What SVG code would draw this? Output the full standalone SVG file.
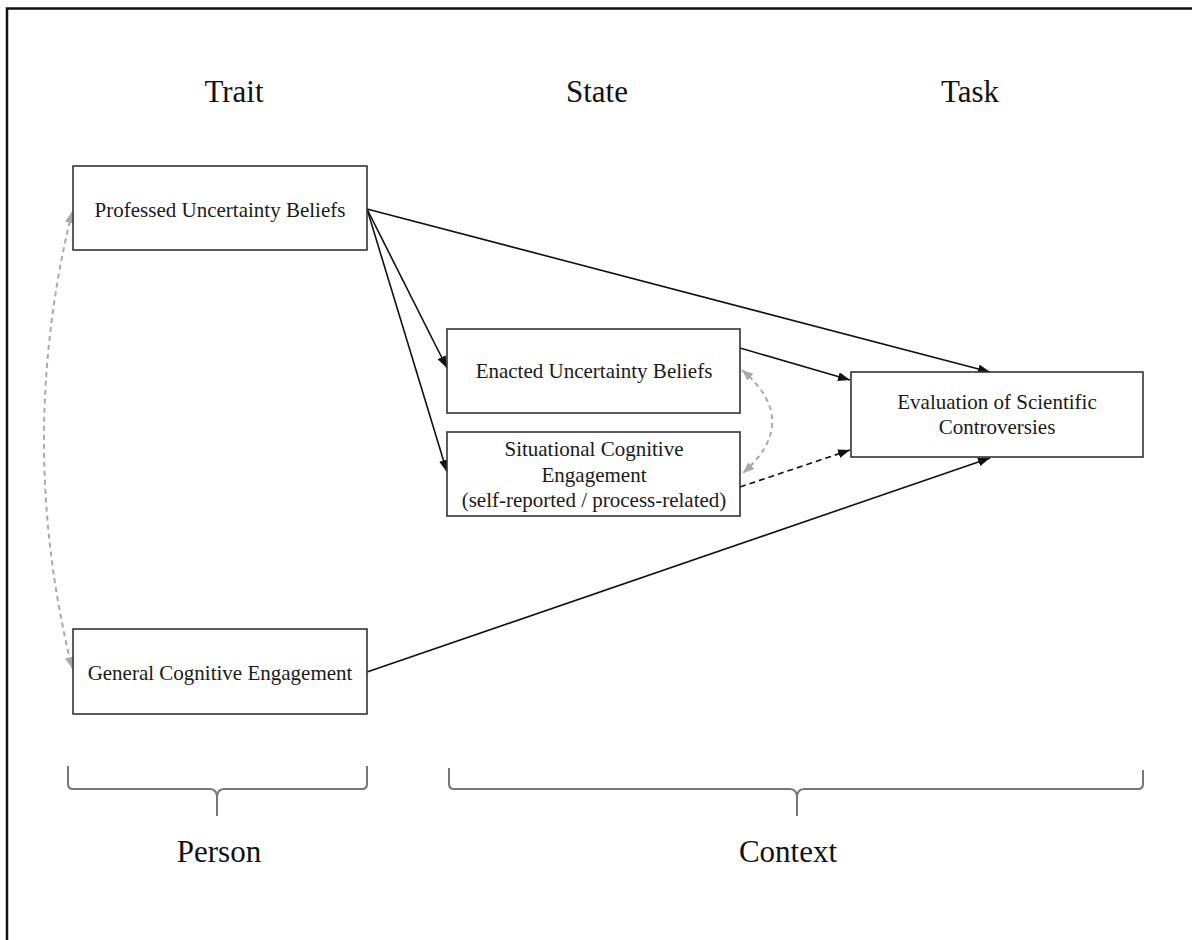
<svg xmlns="http://www.w3.org/2000/svg" width="1192" height="940" viewBox="0 0 1192 940">
<style>
.box{fill:#fff;stroke:#333;stroke-width:1.6}
.lbl{font-family:"Liberation Serif","Times New Roman",serif;font-size:21px;fill:#1a1a1a;text-anchor:middle}
.head{font-family:"Liberation Serif","Times New Roman",serif;font-size:31px;fill:#111;text-anchor:middle}
.arr{fill:none;stroke:#111;stroke-width:1.6}
.dash{fill:none;stroke:#111;stroke-width:1.6;stroke-dasharray:6,4}
.gdash{fill:none;stroke:#aaa;stroke-width:2;stroke-dasharray:5,4}
.brace{fill:none;stroke:#777;stroke-width:2}
</style>
<defs>
<marker id="ah" markerUnits="userSpaceOnUse" markerWidth="13" markerHeight="10" refX="12" refY="4.5" orient="auto">
<path d="M0,0 L12,4.5 L0,9 z" fill="#111"/>
</marker>
<marker id="gh" markerUnits="userSpaceOnUse" markerWidth="12" markerHeight="10" refX="11" refY="4.5" orient="auto-start-reverse">
<path d="M0,0 L11,4.5 L0,9 z" fill="#aaa"/>
</marker>
</defs>
<rect x="0" y="0" width="1192" height="940" fill="#fff"/>
<g id="frame">
<path d="M7,940 L7,8.5 L1192,8.5" fill="none" stroke="#111" stroke-width="2.5"/>
</g>
<g id="headings">
<text class="head" x="234" y="102">Trait</text>
<text class="head" x="597" y="102">State</text>
<text class="head" x="970" y="102">Task</text>
</g>
<g id="connectors">
<path class="gdash" d="M72,212 Q16,440 72,668" marker-start="url(#gh)" marker-end="url(#gh)"/>
<path class="gdash" d="M742,370 Q802,421 743,473" marker-start="url(#gh)" marker-end="url(#gh)"/>
<line class="arr" x1="367" y1="209" x2="990" y2="372" marker-end="url(#ah)"/>
<line class="arr" x1="367" y1="209" x2="447" y2="368" marker-end="url(#ah)"/>
<line class="arr" x1="367" y1="209" x2="447" y2="472" marker-end="url(#ah)"/>
<line class="arr" x1="740" y1="348" x2="850" y2="380" marker-end="url(#ah)"/>
<line class="dash" x1="740" y1="487" x2="850" y2="450" marker-end="url(#ah)"/>
<line class="arr" x1="367" y1="672" x2="990" y2="458" marker-end="url(#ah)"/>
</g>
<g id="professed">
<rect class="box" x="73" y="166" width="294" height="84"/>
<text class="lbl" x="220" y="217">Professed Uncertainty Beliefs</text>
</g>
<g id="general">
<rect class="box" x="73" y="629" width="294" height="85"/>
<text class="lbl" x="220" y="680">General Cognitive Engagement</text>
</g>
<g id="enacted">
<rect class="box" x="447" y="329" width="293" height="84"/>
<text class="lbl" x="594" y="378">Enacted Uncertainty Beliefs</text>
</g>
<g id="situational">
<rect class="box" x="447" y="432" width="293" height="84"/>
<text class="lbl" x="594" y="456">Situational Cognitive</text>
<text class="lbl" x="594" y="482">Engagement</text>
<text class="lbl" x="594" y="507">(self-reported / process-related)</text>
</g>
<g id="evaluation">
<rect class="box" x="851" y="372" width="292" height="85"/>
<text class="lbl" x="997" y="409">Evaluation of Scientific</text>
<text class="lbl" x="997" y="434">Controversies</text>
</g>
<g id="person">
<path class="brace" d="M68,766 L68,784 Q68,789 73,789 L210,789 Q217,789 217,798 L217,816 M217,798 Q217,789 224,789 L362,789 Q367,789 367,784 L367,766"/>
<text class="head" x="219" y="862">Person</text>
</g>
<g id="context">
<path class="brace" d="M449,768 L449,784 Q449,789 454,789 L790,789 Q797,789 797,798 L797,816 M797,798 Q797,789 804,789 L1138,789 Q1143,789 1143,784 L1143,770"/>
<text class="head" x="788" y="862">Context</text>
</g>
</svg>
